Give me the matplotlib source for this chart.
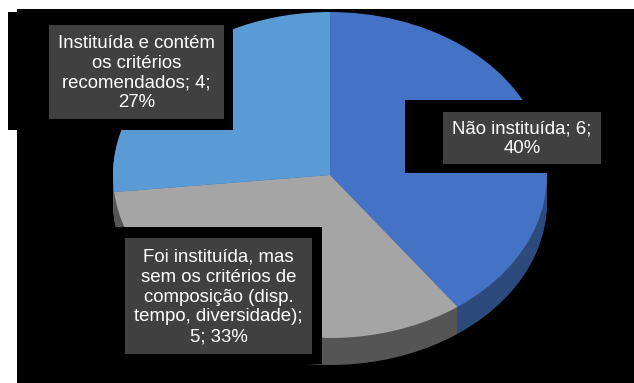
import matplotlib.pyplot as plt
import matplotlib.patches as patches

# dados da comissão
categorias = ["Não instituída",
              "Foi instituída, mas\nsem os critérios de\ncomposição (disp.\ntempo, diversidade)",
              "Instituída e contém\nos critérios\nrecomendados"]
valores = [6, 5, 4]
cores_topo = ["#4472C4", "#A5A5A5", "#5B9BD5"]
cores_lado = ["#2C4A7C", "#555555", "#3A6690"]

total = sum(valores)
pct = [round(v * 100 / total) for v in valores]
rotulos = [f"{categorias[0]}; {valores[0]};\n{pct[0]}%",
           f"{categorias[1]};\n{valores[1]}; {pct[1]}%",
           f"{categorias[2]}; {valores[2]};\n{pct[2]}%"]

W, H = 634, 383
fig = plt.figure(figsize=(W / 100, H / 100), dpi=100, facecolor="white")

# fundo preto da área do gráfico
fundo = patches.Rectangle((17 / W, 0), (W - 17) / W, (H - 9) / H,
                          transform=fig.transFigure, facecolor="black",
                          edgecolor="none", zorder=-1)
fig.patches.append(fundo)

# pizza "3D": topo elíptico + camadas escuras para a lateral
cx0, cx1 = 113, 547
ry_px = 163
topo_px = 12
ymin = -1.2
ax = fig.add_axes([cx0 / W, (H - topo_px - (1 - ymin) * ry_px) / H,
                   (cx1 - cx0) / W, (1 - ymin) * ry_px / H])
ax.set_zorder(1)
ax.patch.set_visible(False)

prof = 27 / ry_px
n = 30
for k in range(n, 0, -1):
    ax.pie(valores, colors=cores_lado, startangle=90, counterclock=False,
           center=(0, -prof * k / n), radius=1,
           wedgeprops=dict(linewidth=0.6, edgecolor=None))
ax.pie(valores, colors=cores_topo, startangle=90, counterclock=False,
       center=(0, 0), radius=1, wedgeprops=dict(linewidth=0))
ax.set_aspect("auto")
ax.set_xlim(-1, 1)
ax.set_ylim(ymin, 1)
ax.axis("off")

# camada dos rótulos em pixels
ov = fig.add_axes([0, 0, 1, 1])
ov.set_zorder(2)
ov.patch.set_visible(False)
ov.set_xlim(0, W)
ov.set_ylim(H, 0)
ov.axis("off")

# (caixa preta externa, caixa cinza interna)
caixas = [
    ((405, 100, 230, 73), (443, 112, 158, 52)),
    ((84, 227, 238, 137), (125, 238, 187, 116)),
    ((8, 12, 225, 118), (49, 25, 175, 94)),
]
for (ext, inn), txt in zip(caixas, rotulos):
    ov.add_patch(patches.Rectangle(ext[:2], ext[2], ext[3], facecolor="black",
                                   edgecolor="none"))
    ov.add_patch(patches.Rectangle(inn[:2], inn[2], inn[3], facecolor="#404040",
                                   edgecolor="none"))
    ov.text(inn[0] + inn[2] / 2, inn[1] + inn[3] / 2 + 1, txt, color="white",
            ha="center", va="center", fontsize=13.4, linespacing=1.23,
            family=["Liberation Sans", "DejaVu Sans"])

fig.savefig("out.png", dpi=100, facecolor="white")
